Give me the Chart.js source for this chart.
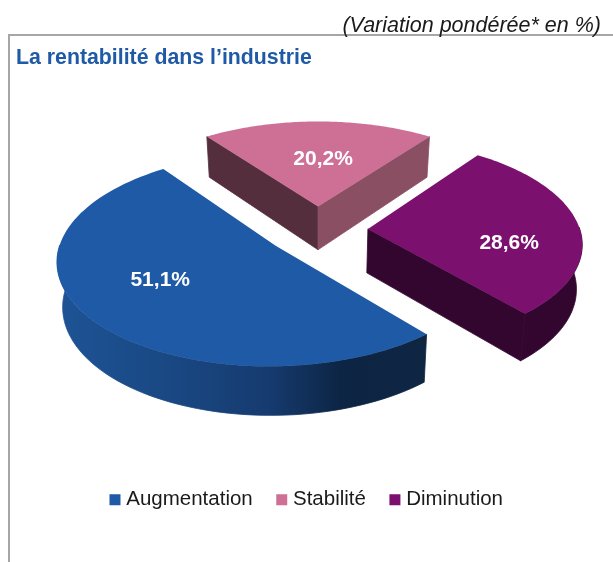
<!DOCTYPE html>
<html lang="fr">
<head>
<meta charset="utf-8">
<title>La rentabilité dans l'industrie</title>
<script src="https://cdn.jsdelivr.net/npm/chart.js@4"></script>
<style>
    html, body { margin: 0; padding: 0; background: #fff; }
    #wrap { position: relative; width: 613px; height: 562px; overflow: hidden; font-family: "Liberation Sans", Arial, sans-serif; }
    #frame { position: absolute; left: 8px; top: 34px; width: 620px; height: 560px; border-left: 2px solid #a6a6a6; border-top: 2px solid #a6a6a6; }
    #note { position: absolute; right: 12px; top: 13px; font-size: 21.5px; font-style: italic; color: #1a1a1a; white-space: nowrap; }
    #title { position: absolute; left: 16px; top: 45px; font-size: 21.3px; font-weight: bold; color: #1f5aa6; white-space: nowrap; }
    canvas { position: absolute; left: 0; top: 0; }
</style>
</head>
<body>
<div id="wrap">
    <canvas id="pieChart" width="613" height="562"></canvas>
    <div id="frame"></div>
    <div id="note">(Variation pondérée* en %)</div>
    <div id="title">La rentabilité dans l’industrie</div>
</div>
<script>
const categories = ['Augmentation', 'Stabilité', 'Diminution'];
const values = [51.1, 20.2, 28.6];
const valueLabels = ['51,1%', '20,2%', '28,6%'];

const topColors = ['#1f5aa6', '#ce7096', '#7c106f'];
const wallColors = ['#0e2642', '#552e3d', '#33062f'];
const faceColors = [['#0e2642', '#0e2642'], ['#552e3d', '#8a4f63'], ['#33062f', '#33062f']];

// fake 3D view: how flat the disc looks, perspective, thickness
const squash = 0.477;
const persp = 0.125;
const shiftX = 9.5;
const shiftY = -1;
const bottomShrink = 0.978;
const explode = [53, 50, 50];

// where the value text sits on each slice
const labelRadius = [0.64, 0.54, 0.67];
const labelNudge = [[1, -10], [5, 1], [0, 17]];

function makeView(arc) {
    const R = arc.outerRadius;
    const cx = arc.x + shiftX;
    const cy = arc.y + shiftY;
    const mid = (arc.startAngle + arc.endAngle) / 2;
    const ox = arc.options.offset * Math.cos(mid);
    const oy = arc.options.offset * Math.sin(mid);

    // r in pixels on the flat pie, a in radians, low = bottom of the slab
    return function (r, a, low) {
        const X = ox + r * Math.cos(a);
        const Y = oy + r * Math.sin(a);
        const S = 1 / (1 - persp * Y / R);
        let x = X * S;
        let y = Y * squash * S;
        if (low) {
            x = x * bottomShrink;
            y = y + 14 + 30 * S;
        }
        return { x: cx + x, y: cy + y };
    };
}

function polygon(ctx, points, fill, seal) {
    ctx.beginPath();
    points.forEach((p, i) => i ? ctx.lineTo(p.x, p.y) : ctx.moveTo(p.x, p.y));
    ctx.closePath();
    ctx.fillStyle = fill;
    ctx.fill();
    if (seal) {
        // closes the hairline between wall and face
        ctx.strokeStyle = fill;
        ctx.lineWidth = 0.8;
        ctx.stroke();
    }
}

function wallGradient(ctx, index) {
    if (index !== 0) {
        return wallColors[index];
    }
    const grad = ctx.createLinearGradient(60, 0, 425, 0);
    grad.addColorStop(0, '#1d5395');
    grad.addColorStop(0.25, '#1a4a86');
    grad.addColorStop(0.57, '#163b70');
    grad.addColorStop(0.77, '#0d2544');
    grad.addColorStop(1, '#0e2642');
    return grad;
}

function drawSlice(ctx, arc, index) {
    const view = makeView(arc);
    const R = arc.outerRadius;
    const start = arc.startAngle;
    const end = arc.endAngle;
    const steps = 90;

    // the two cut faces, only when they look towards the viewer
    if (Math.sin(start - Math.PI / 2) > 0) {
        polygon(ctx, [view(0, start), view(R, start), view(R, start, true), view(0, start, true)], faceColors[index][0], true);
    }
    if (Math.sin(end + Math.PI / 2) > 0) {
        polygon(ctx, [view(0, end), view(R, end), view(R, end, true), view(0, end, true)], faceColors[index][1], true);
    }

    // outer wall, front part only
    const front = [];
    for (let i = 0; i <= steps; i++) {
        const a = start + (end - start) * i / steps;
        if (Math.sin(a) > -0.02) {
            front.push(a);
        }
    }
    if (front.length > 1) {
        const upper = front.map(a => view(R, a));
        const lower = front.map(a => view(R, a, true)).reverse();
        polygon(ctx, upper.concat(lower), wallGradient(ctx, index), true);
    }

    // top of the slice
    const top = [view(0, start)];
    for (let i = 0; i <= steps; i++) {
        top.push(view(R, start + (end - start) * i / steps));
    }
    polygon(ctx, top, topColors[index], false);
}

function drawLabel(ctx, arc, index) {
    const view = makeView(arc);
    const p = view(arc.outerRadius * labelRadius[index], (arc.startAngle + arc.endAngle) / 2);
    ctx.fillStyle = '#ffffff';
    ctx.font = 'bold 21px "Liberation Sans", Arial, sans-serif';
    ctx.textAlign = 'center';
    ctx.textBaseline = 'middle';
    ctx.fillText(valueLabels[index], p.x + labelNudge[index][0], p.y + labelNudge[index][1]);
}

const pie3d = {
    id: 'pie3d',
    beforeDatasetDraw(chart, args) {
        const ctx = chart.ctx;
        const arcs = args.meta.data;
        ctx.save();
        [1, 0, 2].forEach(i => drawSlice(ctx, arcs[i], i));
        [1, 0, 2].forEach(i => drawLabel(ctx, arcs[i], i));
        ctx.restore();
        return false;
    }
};

new Chart(document.getElementById('pieChart').getContext('2d'), {
    type: 'pie',
    data: {
        labels: categories,
        datasets: [{
            data: values,
            backgroundColor: topColors,
            borderWidth: 0,
            offset: explode
        }]
    },
    options: {
        responsive: false,
        animation: false,
        rotation: 139.5,
        radius: 212,
        layout: { padding: { left: 4, bottom: 42 } },
        plugins: {
            tooltip: { enabled: false },
            legend: {
                position: 'bottom',
                labels: {
                    usePointStyle: true,
                    pointStyle: 'rect',
                    boxWidth: 2,
                    boxHeight: 11,
                    padding: 28,
                    color: '#1a1a1a',
                    font: { family: '"Liberation Sans", Arial, sans-serif', size: 20.5 }
                }
            }
        }
    },
    plugins: [pie3d]
});
</script>
</body>
</html>
